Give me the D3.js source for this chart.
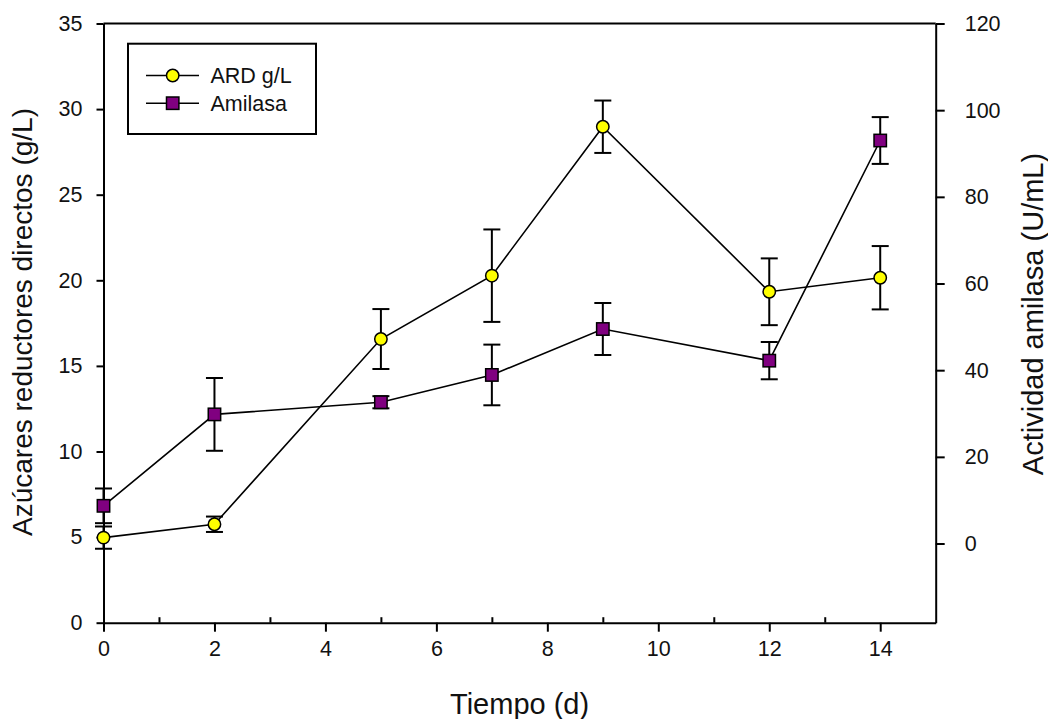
<!DOCTYPE html>
<html>
<head>
<meta charset="utf-8">
<script src="https://cdn.jsdelivr.net/npm/d3@7"></script>
<style>
  body { margin: 0; background: #fff; }
  svg { font-family: "Liberation Sans", Arial, sans-serif; }
  .axis path, .axis line { stroke: #000; stroke-width: 2; }
  .axis text { font-size: 21.5px; fill: #111; }
  .title { font-size: 29px; fill: #111; }
</style>
</head>
<body>
<svg width="1048" height="719"></svg>
<script>
const width = 1048
const height = 719
const margins = { top: 23.5, bottom: 96.3, left: 103.5, right: 112.3 }

// Data
const days = [0, 2, 5, 7, 9, 12, 14]
const ard = [4.97, 5.75, 16.57, 20.27, 28.97, 19.33, 20.15]
const ardErr = [0.65, 0.45, 1.75, 2.7, 1.53, 1.95, 1.85]
const amilasa = [8.7, 29.8, 32.6, 38.9, 49.5, 42.2, 93.0]
const amilasaErr = [4.0, 8.4, 1.4, 7.0, 6.0, 4.3, 5.4]

const xTicks = [0, 2, 4, 6, 8, 10, 12, 14]
const xMinor = [1, 3, 5, 7, 9, 11, 13]
const yLeftTicks = [0, 5, 10, 15, 20, 25, 30, 35]
const yRightTicks = [0, 20, 40, 60, 80, 100, 120]

const legendItems = [
    { name: "ARD g/L", shape: "circle", fill: "#ffff00" },
    { name: "Amilasa", shape: "square", fill: "#800080" }
]

let svg = d3.select('svg')

// Scales
const x0 = margins.left, x1 = width - margins.right
const y0 = height - margins.bottom, y1 = margins.top
let xScale = d3.scaleLinear().domain([0, 15]).range([x0, x1])
let yLeft = d3.scaleLinear().domain([0, 35]).range([y0, y1])
let yRight = d3.scaleLinear().domain([-18.27, 120]).range([y0, y1])

// Top border
svg.append('line')
    .attr('x1', x0).attr('x2', x1)
    .attr('y1', y1).attr('y2', y1)
    .attr('stroke', '#000').attr('stroke-width', 2)

// Minor x ticks (inside)
svg.append('g')
    .attr('class', 'axis')
    .attr('transform', `translate(0,${y0})`)
    .call(d3.axisTop(xScale).tickValues(xMinor).tickSize(5.5).tickSizeOuter(0).tickFormat(''))
    .select('.domain').remove()

// x axis
svg.append('g')
    .attr('class', 'axis')
    .attr('transform', `translate(0,${y0})`)
    .call(d3.axisBottom(xScale).tickValues(xTicks).tickSize(9).tickSizeOuter(0).tickPadding(9))

// left y axis
svg.append('g')
    .attr('class', 'axis')
    .attr('transform', `translate(${x0},0)`)
    .call(d3.axisLeft(yLeft).tickValues(yLeftTicks).tickSize(7).tickSizeOuter(0).tickPadding(14))

// right y axis
svg.append('g')
    .attr('class', 'axis')
    .attr('transform', `translate(${x1},0)`)
    .call(d3.axisRight(yRight).tickValues(yRightTicks).tickSize(9).tickSizeOuter(0).tickPadding(20))

// Axis titles
svg.append('text')
    .attr('class', 'title')
    .attr('text-anchor', 'middle')
    .attr('x', (x0 + x1) / 2)
    .attr('y', 714)
    .text('Tiempo (d)')

svg.append('text')
    .attr('class', 'title')
    .attr('text-anchor', 'middle')
    .style('font-size', '28px')
    .attr('transform', 'translate(32,322) rotate(-90)')
    .text('Azúcares reductores directos (g/L)')

svg.append('text')
    .attr('class', 'title')
    .attr('text-anchor', 'middle')
    .attr('transform', 'translate(1043,314) rotate(-90)')
    .text('Actividad amilasa (U/mL)')

// Series
const series = [
    { vals: ard, err: ardErr, scale: yLeft, shape: 'circle', fill: '#ffff00' },
    { vals: amilasa, err: amilasaErr, scale: yRight, shape: 'square', fill: '#800080' }
]

const capW = 8.5
series.forEach(s => {
    let pts = days.map((d, i) => ({ x: d, y: s.vals[i], e: s.err[i] }))
    let g = svg.append('g')
    // error bars
    let eb = g.selectAll('.eb').data(pts).enter().append('g')
        .attr('stroke', '#000').attr('stroke-width', 2)
    eb.append('line')
        .attr('x1', d => xScale(d.x)).attr('x2', d => xScale(d.x))
        .attr('y1', d => s.scale(d.y - d.e)).attr('y2', d => s.scale(d.y + d.e))
    eb.append('line')
        .attr('x1', d => xScale(d.x) - capW).attr('x2', d => xScale(d.x) + capW)
        .attr('y1', d => s.scale(d.y + d.e)).attr('y2', d => s.scale(d.y + d.e))
    eb.append('line')
        .attr('x1', d => xScale(d.x) - capW).attr('x2', d => xScale(d.x) + capW)
        .attr('y1', d => s.scale(d.y - d.e)).attr('y2', d => s.scale(d.y - d.e))
    // line
    g.append('path')
        .datum(pts)
        .attr('fill', 'none')
        .attr('stroke', '#000')
        .attr('stroke-width', 1.6)
        .attr('d', d3.line().x(d => xScale(d.x)).y(d => s.scale(d.y)))
    s.g = g
    s.pts = pts
})

// markers on top
series.forEach(s => {
    if (s.shape === 'circle') {
        s.g.selectAll('.m').data(s.pts).enter().append('circle')
            .attr('cx', d => xScale(d.x)).attr('cy', d => s.scale(d.y))
            .attr('r', 6.2)
            .attr('fill', s.fill).attr('stroke', '#000').attr('stroke-width', 1.5)
    } else {
        s.g.selectAll('.m').data(s.pts).enter().append('rect')
            .attr('x', d => xScale(d.x) - 6.2).attr('y', d => s.scale(d.y) - 6.2)
            .attr('width', 12.4).attr('height', 12.4)
            .attr('fill', s.fill).attr('stroke', '#000').attr('stroke-width', 1.5)
    }
})

// Legend
const legend = svg.append('g')
legend.append('rect')
    .attr('x', 128).attr('y', 43.7)
    .attr('width', 188).attr('height', 90.3)
    .attr('fill', '#fff').attr('stroke', '#000').attr('stroke-width', 2)

const li = legend.selectAll('.li').data(legendItems).enter().append('g')
    .attr('transform', (d, i) => `translate(0,${75.5 + i * 27.7})`)
li.append('line')
    .attr('x1', 146).attr('x2', 199)
    .attr('stroke', '#000').attr('stroke-width', 1.6)
li.each(function (d) {
    let sel = d3.select(this)
    if (d.shape === 'circle') {
        sel.append('circle').attr('cx', 172.7).attr('r', 6.2)
            .attr('fill', d.fill).attr('stroke', '#000').attr('stroke-width', 1.5)
    } else {
        sel.append('rect').attr('x', 166.5).attr('y', -6.2).attr('width', 12.4).attr('height', 12.4)
            .attr('fill', d.fill).attr('stroke', '#000').attr('stroke-width', 1.5)
    }
})
li.append('text')
    .attr('x', 210.5)
    .attr('dy', '0.35em')
    .attr('font-size', 21.5)
    .attr('fill', '#111')
    .text(d => d.name)
</script>
</body>
</html>
